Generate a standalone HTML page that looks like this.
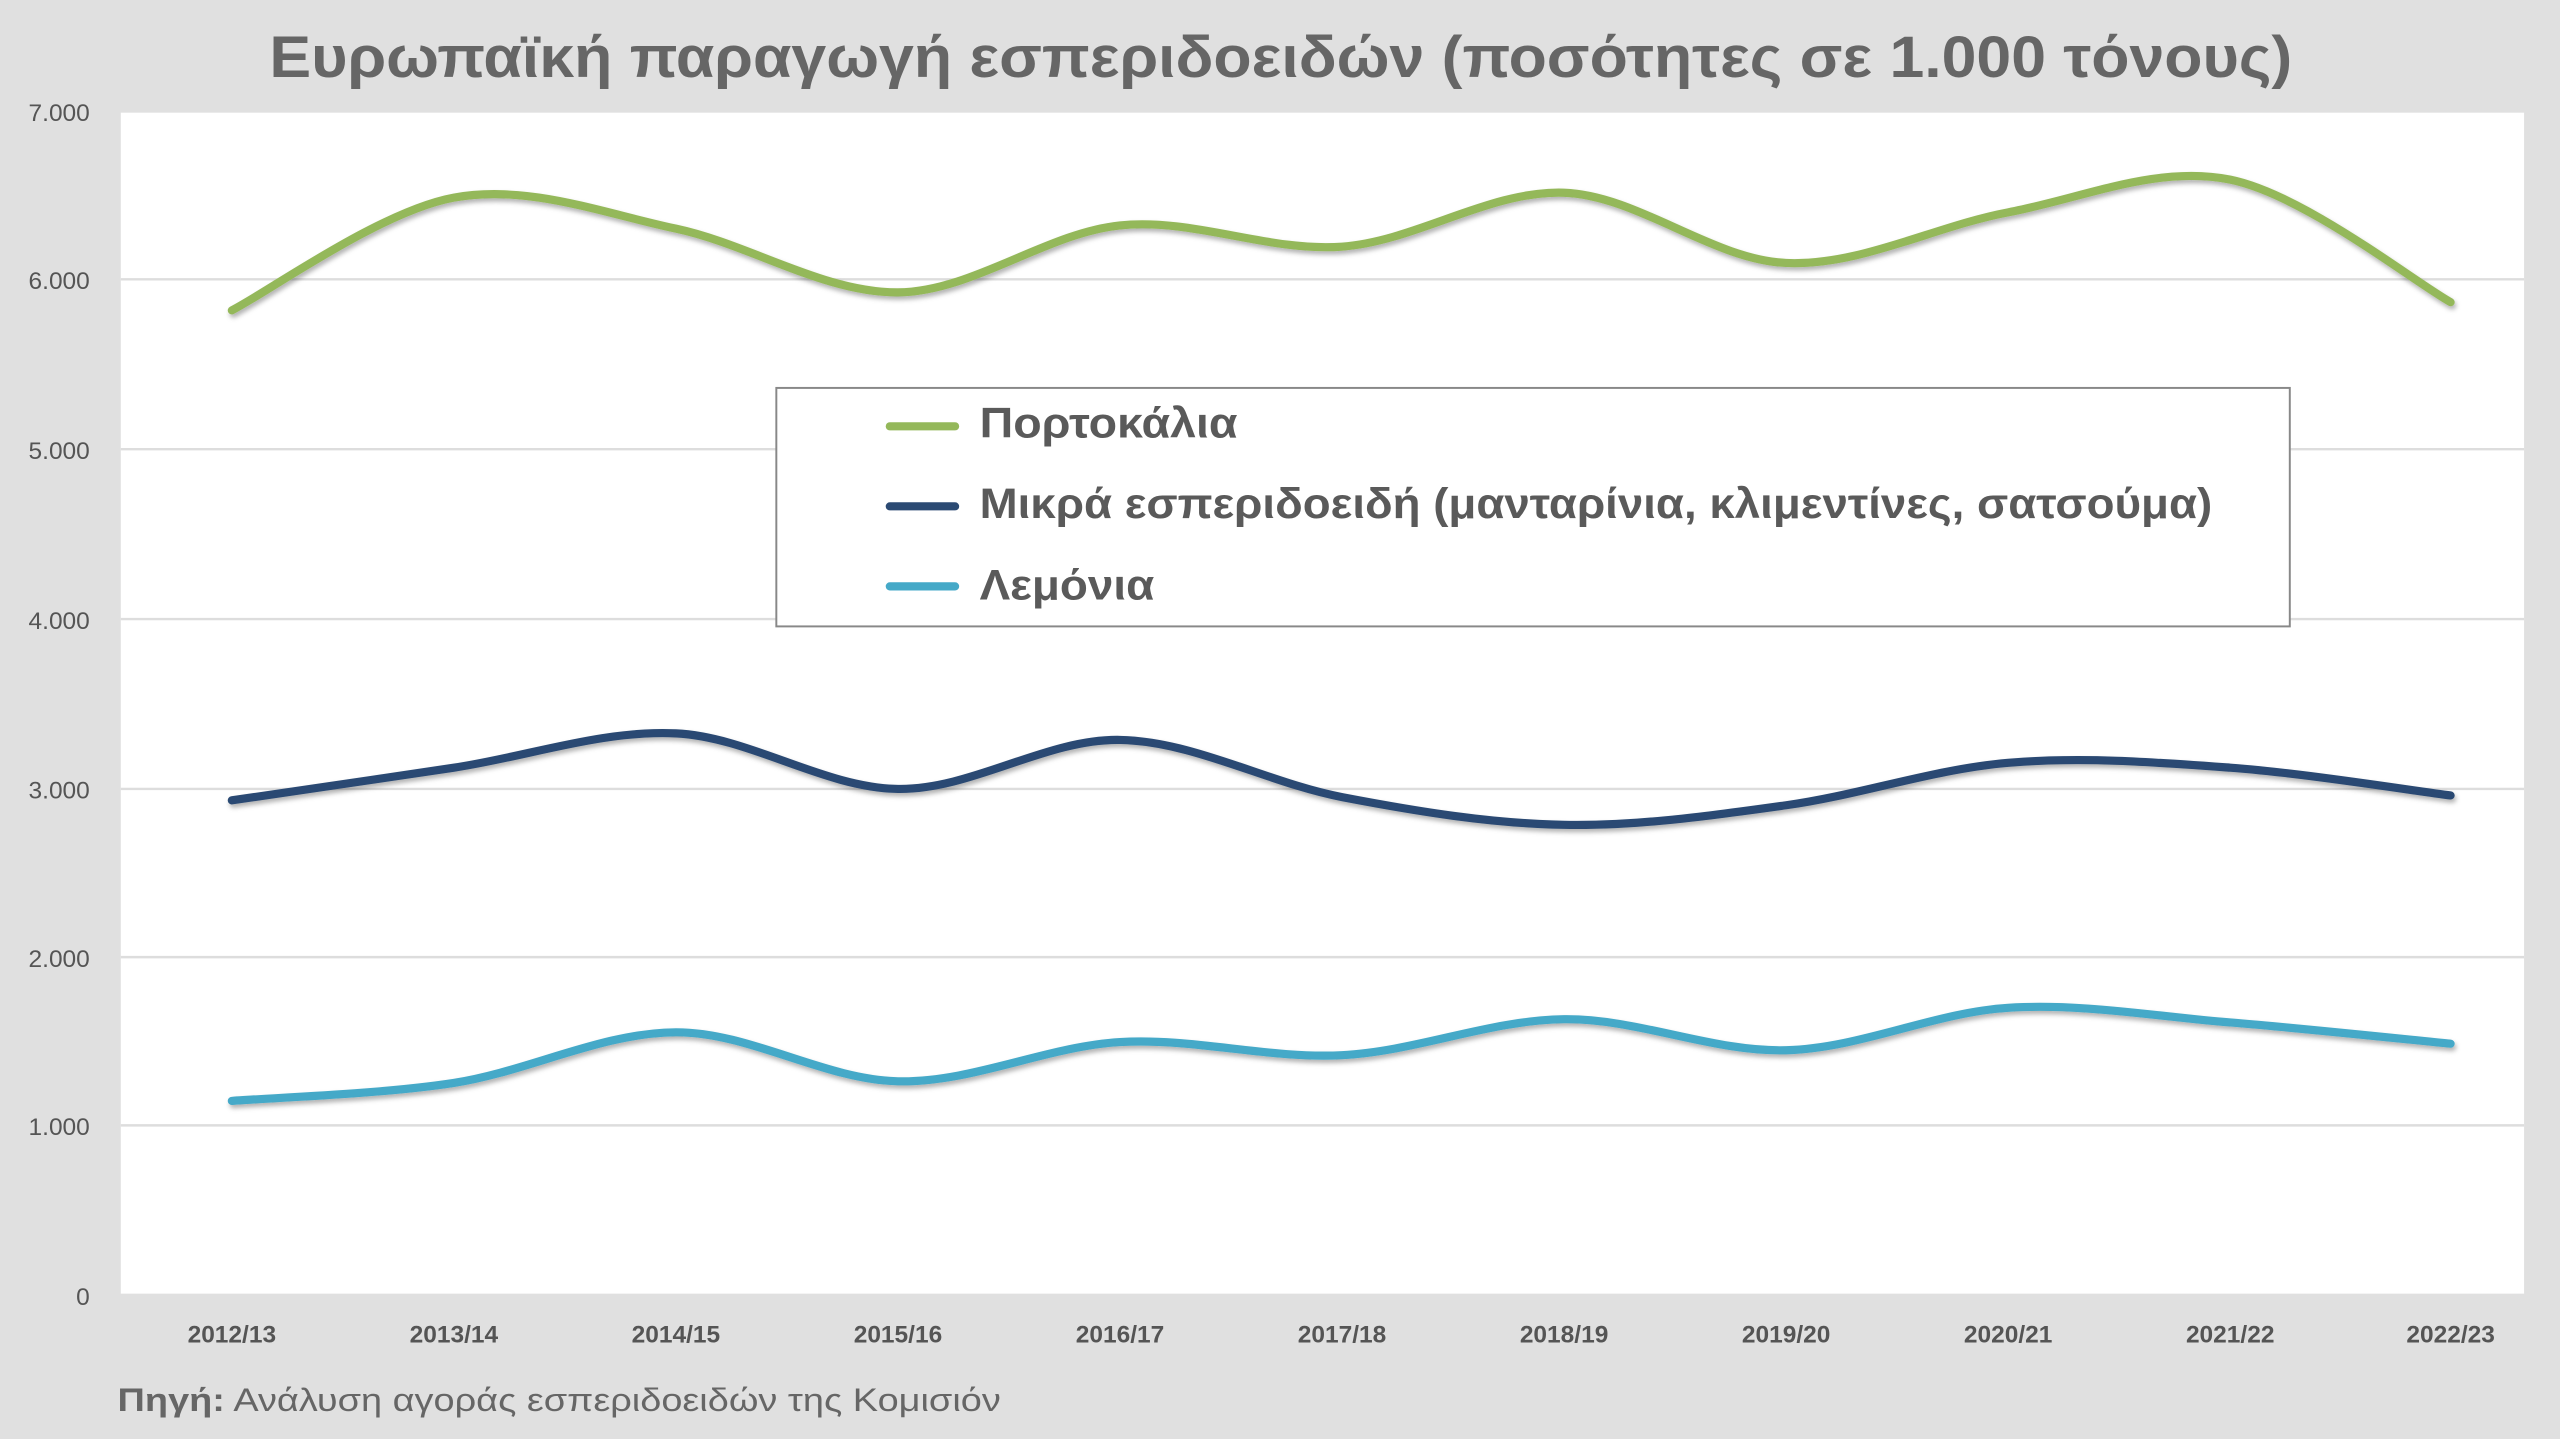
<!DOCTYPE html>
<html><head><meta charset="utf-8"><style>
html,body{margin:0;padding:0;background:#e0e0e0;}
svg{display:block;}
text{font-family:"Liberation Sans","DejaVu Sans",sans-serif;}
</style></head><body>
<svg id="s" width="2560" height="1439" viewBox="0 0 1568 881" preserveAspectRatio="none" xmlns="http://www.w3.org/2000/svg">
<defs><filter id="sh" x="-5%" y="-20%" width="110%" height="140%"><feDropShadow dx="1" dy="2" stdDeviation="1.5" flood-color="#000" flood-opacity="0.3"/></filter></defs>
<rect width="1568" height="881" fill="#e0e0e0"/>
<text x="165" y="47" font-size="36" font-weight="bold" fill="#666" textLength="1239" lengthAdjust="spacingAndGlyphs">Ευρωπαϊκή παραγωγή εσπεριδοειδών (ποσότητες σε 1.000 τόνους)</text>
<rect x="74" y="69" width="1472" height="723" fill="#fff"/>
<g stroke="#dddddd" stroke-width="1.5">
<line x1="74" x2="1546" y1="171" y2="171"/><line x1="74" x2="1546" y1="275" y2="275"/>
<line x1="74" x2="1546" y1="379" y2="379"/><line x1="74" x2="1546" y1="483" y2="483"/>
<line x1="74" x2="1546" y1="586" y2="586"/><line x1="74" x2="1546" y1="689" y2="689"/>
</g>
<g font-size="15" fill="#555" text-anchor="end">
<text x="55" y="74">7.000</text><text x="55" y="177">6.000</text><text x="55" y="281">5.000</text>
<text x="55" y="385">4.000</text><text x="55" y="489">3.000</text><text x="55" y="592">2.000</text>
<text x="55" y="695">1.000</text><text x="55" y="799">0</text>
</g>
<g font-size="15" font-weight="bold" fill="#555" text-anchor="middle">
<text x="142" y="822">2012/13</text><text x="278" y="822">2013/14</text><text x="414" y="822">2014/15</text>
<text x="550" y="822">2015/16</text><text x="686" y="822">2016/17</text><text x="822" y="822">2017/18</text>
<text x="958" y="822">2018/19</text><text x="1094" y="822">2019/20</text><text x="1230" y="822">2020/21</text>
<text x="1366" y="822">2021/22</text><text x="1501" y="822">2022/23</text>
</g>
<g id="lines" fill="none" stroke-width="5" stroke-linecap="round" filter="url(#sh)"></g>
<rect x="475.5" y="237.5" width="927" height="146" fill="#fff" stroke="#888" stroke-width="1.2"/>
<g stroke-width="5" stroke-linecap="round">
<line x1="545" x2="585" y1="261" y2="261" stroke="#94b85a"/>
<line x1="545" x2="585" y1="310" y2="310" stroke="#2b4a73"/>
<line x1="545" x2="585" y1="359" y2="359" stroke="#45a9c8"/>
</g>
<g font-size="26" font-weight="bold" fill="#5a5a5a">
<text x="600" y="268" textLength="158" lengthAdjust="spacingAndGlyphs">Πορτοκάλια</text>
<text x="600" y="317" textLength="755" lengthAdjust="spacingAndGlyphs">Μικρά εσπεριδοειδή (μανταρίνια, κλιμεντίνες, σατσούμα)</text>
<text x="600" y="367" textLength="107" lengthAdjust="spacingAndGlyphs">Λεμόνια</text>
</g>
<text x="72" y="864" font-size="20" fill="#666" textLength="541" lengthAdjust="spacingAndGlyphs"><tspan font-weight="bold">Πηγή:</tspan> Ανάλυση αγοράς εσπεριδοειδών της Κομισιόν</text>
</svg>
<script>
var xs=[142,278,414,550,686,822,958,1094,1230,1366,1501];
var series=[
["#94b85a",[190,121,140,179,138,151,118,161,130,110,185]],
["#2b4a73",[490,470,449,483,453,488,505,493,467,470,487]],
["#45a9c8",[674,663,632,662,638,646,624,643,617,626,639]]];
var g=document.getElementById("lines");
series.forEach(function(s){
 var y=s[1],d="M"+xs[0]+","+y[0];
 for(var i=0;i<xs.length-1;i++){
  var p0=i>0?i-1:i,p3=i+2<xs.length?i+2:i+1;
  var c1x=xs[i]+(xs[i+1]-xs[p0])/6,c1y=y[i]+(y[i+1]-y[p0])/6;
  var c2x=xs[i+1]-(xs[p3]-xs[i])/6,c2y=y[i+1]-(y[p3]-y[i])/6;
  d+=" C"+c1x+","+c1y+" "+c2x+","+c2y+" "+xs[i+1]+","+y[i+1];
 }
 var p=document.createElementNS("http://www.w3.org/2000/svg","path");
 p.setAttribute("d",d);p.setAttribute("stroke",s[0]);g.appendChild(p);
});
</script>
</body></html>
